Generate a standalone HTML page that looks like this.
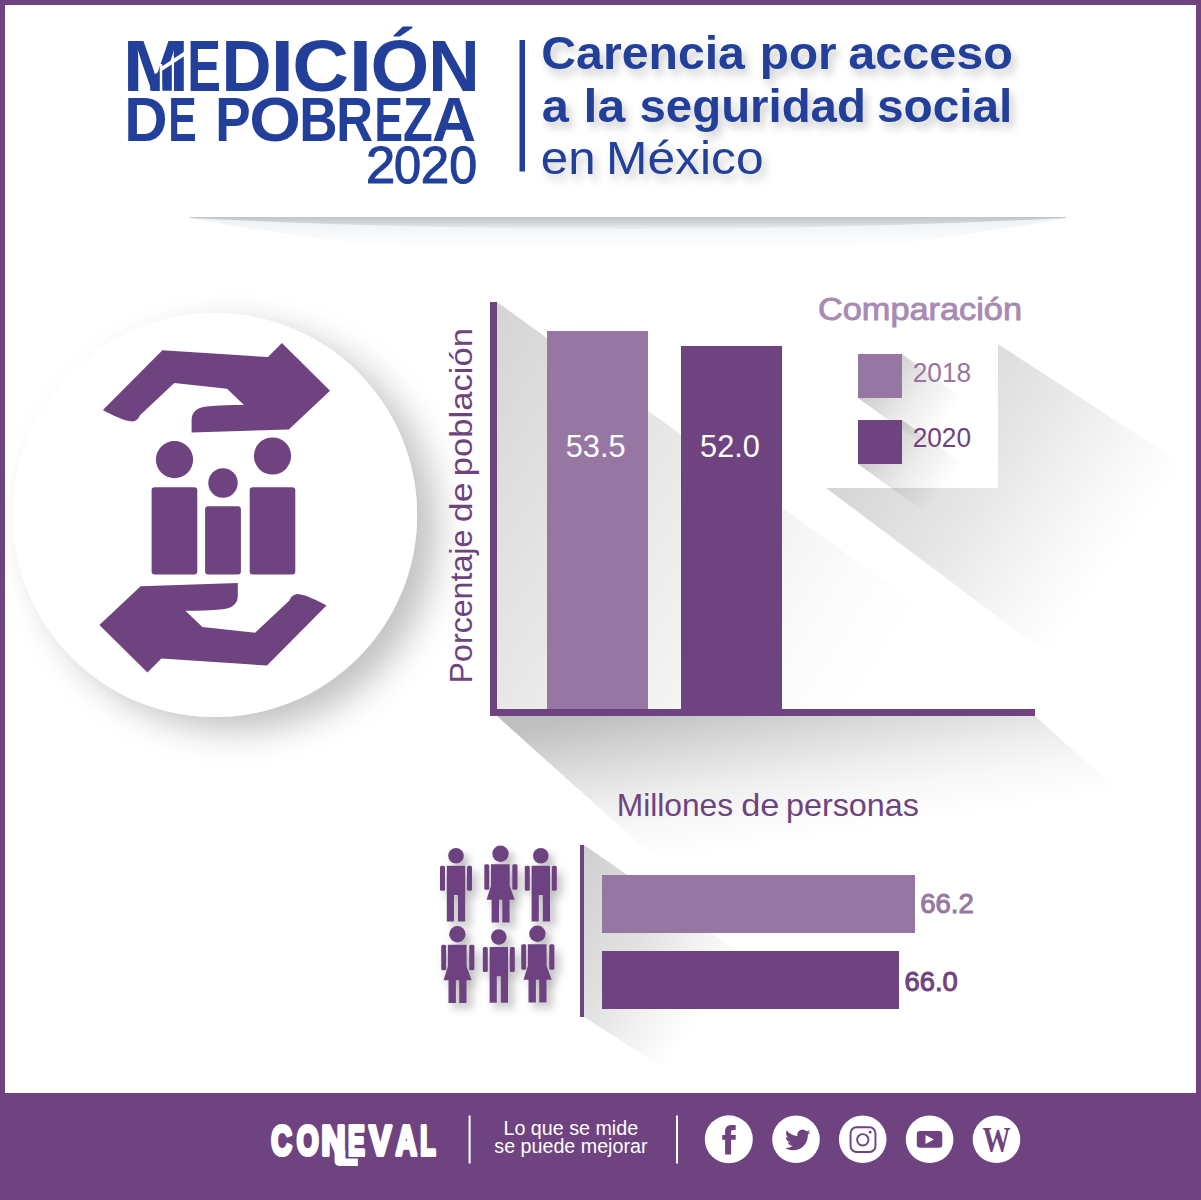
<!DOCTYPE html>
<html lang="es">
<head>
<meta charset="utf-8">
<title>Medición de Pobreza 2020 - Carencia por acceso a la seguridad social en México</title>
<style>
html,body{margin:0;padding:0;background:#fff;}
body{width:1201px;height:1200px;overflow:hidden;position:relative;}
svg{position:absolute;left:0;top:0;display:block;}
.lib{font-family:"Liberation Sans",Arial,sans-serif;font-kerning:none;}
</style>
</head>
<body>
<svg width="1201" height="1200" viewBox="0 0 1201 1200">
<defs>
  <filter id="tshadow" x="-10%" y="-30%" width="130%" height="180%">
    <feDropShadow dx="4" dy="6" stdDeviation="4" flood-color="#000" flood-opacity="0.2"/>
  </filter>
  <filter id="cshadow" x="-20%" y="-20%" width="150%" height="150%">
    <feDropShadow dx="20" dy="14" stdDeviation="17" flood-color="#000" flood-opacity="0.24"/>
  </filter>
  <filter id="pshadow" x="-30%" y="-30%" width="170%" height="170%">
    <feDropShadow dx="5" dy="6" stdDeviation="4.5" flood-color="#000" flood-opacity="0.27"/>
  </filter>
<linearGradient id="lg1" gradientUnits="userSpaceOnUse" x1="0" y1="219" x2="0" y2="250"><stop offset="0" stop-color="#eff2f5" stop-opacity="1"/><stop offset="0.4" stop-color="#f5f7f9" stop-opacity="1"/><stop offset="0.75" stop-color="#fbfcfd" stop-opacity="1"/><stop offset="1" stop-color="#ffffff" stop-opacity="1"/></linearGradient>
<linearGradient id="lg2" gradientUnits="userSpaceOnUse" x1="0" y1="217" x2="0" y2="229"><stop offset="0" stop-color="#c2c5c8" stop-opacity="1"/><stop offset="0.5" stop-color="#d3d6d9" stop-opacity="1"/><stop offset="1" stop-color="#edf0f3" stop-opacity="1"/></linearGradient>
<linearGradient id="lg3" gradientUnits="userSpaceOnUse" x1="497" y1="302" x2="937" y2="588"><stop offset="0" stop-color="#000" stop-opacity="0.165"/><stop offset="0.55" stop-color="#000" stop-opacity="0.07"/><stop offset="0.85" stop-color="#000" stop-opacity="0.015"/><stop offset="1" stop-color="#000" stop-opacity="0"/></linearGradient>
<linearGradient id="lg4" gradientUnits="userSpaceOnUse" x1="600" y1="716" x2="623" y2="868"><stop offset="0" stop-color="#000" stop-opacity="0.25"/><stop offset="0.29" stop-color="#000" stop-opacity="0.15"/><stop offset="0.55" stop-color="#000" stop-opacity="0.07"/><stop offset="0.74" stop-color="#000" stop-opacity="0.03"/><stop offset="1" stop-color="#000" stop-opacity="0"/></linearGradient>
<linearGradient id="lg5" gradientUnits="userSpaceOnUse" x1="949" y1="309" x2="1180" y2="474"><stop offset="0" stop-color="#000" stop-opacity="0.17"/><stop offset="0.5" stop-color="#000" stop-opacity="0.09"/><stop offset="0.8" stop-color="#000" stop-opacity="0.03"/><stop offset="1" stop-color="#000" stop-opacity="0"/></linearGradient>
<linearGradient id="lg6" gradientUnits="userSpaceOnUse" x1="895.508" y1="349.326" x2="962.865" y2="397.823"><stop offset="0" stop-color="#000" stop-opacity="0.2"/><stop offset="0.5" stop-color="#000" stop-opacity="0.08"/><stop offset="1" stop-color="#000" stop-opacity="0"/></linearGradient>
<linearGradient id="lg7" gradientUnits="userSpaceOnUse" x1="895.508" y1="415.326" x2="962.865" y2="463.823"><stop offset="0" stop-color="#000" stop-opacity="0.2"/><stop offset="0.5" stop-color="#000" stop-opacity="0.08"/><stop offset="1" stop-color="#000" stop-opacity="0"/></linearGradient>
<linearGradient id="lg8" gradientUnits="userSpaceOnUse" x1="584" y1="845" x2="743.9" y2="956.15"><stop offset="0" stop-color="#000" stop-opacity="0.19"/><stop offset="0.5" stop-color="#000" stop-opacity="0.12"/><stop offset="0.77" stop-color="#000" stop-opacity="0.05"/><stop offset="1" stop-color="#000" stop-opacity="0"/></linearGradient>
</defs>
<rect x="0" y="0" width="1201" height="1200" fill="#fff"/>
<g fill="#22409a">
<text class="lib" y="90.8" font-size="72.7" font-weight="700" ><tspan x="122.67" textLength="66.36" lengthAdjust="spacingAndGlyphs">M</tspan><tspan x="187.21" textLength="33.76" lengthAdjust="spacingAndGlyphs">E</tspan><tspan x="221.56" textLength="50.05" lengthAdjust="spacingAndGlyphs">D</tspan><tspan x="270.39" textLength="24.11" lengthAdjust="spacingAndGlyphs">I</tspan><tspan x="292.28" textLength="56.77" lengthAdjust="spacingAndGlyphs">C</tspan><tspan x="348.64" textLength="23.92" lengthAdjust="spacingAndGlyphs">I</tspan><tspan x="370.60" textLength="58.77" lengthAdjust="spacingAndGlyphs">Ó</tspan><tspan x="428.23" textLength="51.47" lengthAdjust="spacingAndGlyphs">N</tspan></text>
<path d="M150.2,77.1 L159.8,71.3 L159.8,90.8 L150.2,90.8 Z"/>
<path d="M162.2,69.8 L171.9,63.9 L171.9,90.8 L162.2,90.8 Z"/>
<path d="M159.8,67.8 L184.5,51.4 L184.5,55.9 L159.8,72.3 Z" fill="#fff"/>
<rect x="159.8" y="64" width="2.4" height="27.5" fill="#fff"/>
<rect x="171.9" y="56" width="2.1" height="35.5" fill="#fff"/>
<text class="lib" y="140.5" font-size="62.5" font-weight="700" ><tspan x="124.19" textLength="43.33" lengthAdjust="spacingAndGlyphs">D</tspan><tspan x="168.15" textLength="28.41" lengthAdjust="spacingAndGlyphs">E</tspan> <tspan x="215.35" textLength="35.36" lengthAdjust="spacingAndGlyphs">P</tspan><tspan x="249.17" textLength="51.72" lengthAdjust="spacingAndGlyphs">O</tspan><tspan x="299.16" textLength="38.25" lengthAdjust="spacingAndGlyphs">B</tspan><tspan x="336.30" textLength="36.75" lengthAdjust="spacingAndGlyphs">R</tspan><tspan x="374.55" textLength="28.41" lengthAdjust="spacingAndGlyphs">E</tspan><tspan x="402.95" textLength="29.75" lengthAdjust="spacingAndGlyphs">Z</tspan><tspan x="432.08" textLength="44.03" lengthAdjust="spacingAndGlyphs">A</tspan></text>
<text class="lib" y="183.3" font-size="51.5" font-weight="400" stroke="#22409a" stroke-width="1.1"><tspan x="365.96" textLength="29.18" lengthAdjust="spacingAndGlyphs">2</tspan><tspan x="393.90" textLength="27.11" lengthAdjust="spacingAndGlyphs">0</tspan><tspan x="420.73" textLength="28.44" lengthAdjust="spacingAndGlyphs">2</tspan><tspan x="449.24" textLength="27.92" lengthAdjust="spacingAndGlyphs">0</tspan></text>
<rect x="519.5" y="40" width="5.5" height="131.5"/>
</g>
<g fill="#22409a" filter="url(#tshadow)">
<text class="lib" y="69.2" font-size="46" font-weight="700" ><tspan x="541.32" textLength="203.57" lengthAdjust="spacingAndGlyphs">Carencia</tspan> <tspan x="759.86" textLength="76.66" lengthAdjust="spacingAndGlyphs">por</tspan> <tspan x="848.38" textLength="164.62" lengthAdjust="spacingAndGlyphs">acceso</tspan></text>
<text class="lib" y="121.6" font-size="46" font-weight="700" ><tspan x="541.87" textLength="27.12" lengthAdjust="spacingAndGlyphs">a</tspan> <tspan x="583.51" textLength="41.67" lengthAdjust="spacingAndGlyphs">la</tspan> <tspan x="639.53" textLength="226.39" lengthAdjust="spacingAndGlyphs">seguridad</tspan> <tspan x="876.92" textLength="135.46" lengthAdjust="spacingAndGlyphs">social</tspan></text>
<text class="lib" y="173.7" font-size="46.5" font-weight="400" ><tspan x="540.81" textLength="54.79" lengthAdjust="spacingAndGlyphs">en</tspan> <tspan x="606.02" textLength="157.57" lengthAdjust="spacingAndGlyphs">México</tspan></text>
</g>
<path d="M190,218 L1066,218 Q628,300 190,218 Z" fill="url(#lg1)"/>
<path d="M190,217 L1066,217 L1066,218 Q628,240 190,218 Z" fill="url(#lg2)"/>
<circle cx="215" cy="515" r="202" fill="#fff" filter="url(#cshadow)"/>
<g fill="#6e4380">
  <path id="hand" d="M162.4,350.2 L268,357.1 L281.9,343.1 L330,390.8 L288.8,429.5 L191.6,432.6 L191.6,419.5 C192,411 198,407.5 206.6,406.5 C218,405.3 232,405 244,405 L227,388.7 L174.3,383 L140,415.3 C138.5,419 136,421.2 132,421.6 C124,421 112,415 102.9,410.1 Z"/>
  <use href="#hand" transform="rotate(180 214.7 507.85)"/>
  <circle cx="174.5" cy="459.6" r="18.6"/>
  <circle cx="272.5" cy="456" r="18.6"/>
  <circle cx="223" cy="483" r="14.7"/>
  <rect x="151.6" y="487.3" width="45.7" height="87.1" rx="3"/>
  <rect x="205.1" y="506.2" width="35.8" height="68.2" rx="3"/>
  <rect x="249.7" y="487.3" width="45.6" height="87.1" rx="3"/>
</g>
<polygon points="497,302 1062,709 497,709" fill="url(#lg3)"/>
<polygon points="497,716 1035,716 1215,878 677,878" fill="url(#lg4)"/>
<polygon points="998,344 1258,513 1086,683 826,488 998,488" fill="url(#lg5)"/>
<rect x="826" y="344" width="172" height="144" fill="#fff"/>
<polygon points="902,354 1032,447.6 1032,491.6 988,491.6 858,398 902,398" fill="url(#lg6)"/>
<polygon points="902,420 1032,513.6 1032,557.6 988,557.6 858,464 902,464" fill="url(#lg7)"/>
<rect x="490" y="302" width="7" height="414" fill="#6e4380"/>
<rect x="490" y="709" width="545" height="7" fill="#6e4380"/>
<rect x="547" y="331" width="101" height="378" fill="#9677a3"/>
<rect x="681" y="346" width="101" height="363" fill="#6e4380"/>
<text class="lib" y="457.3" font-size="31" font-weight="400" fill="#fff"><tspan x="565.67" textLength="59.93" lengthAdjust="spacingAndGlyphs">53.5</tspan></text>
<text class="lib" y="457.3" font-size="31" font-weight="400" fill="#fff"><tspan x="700.07" textLength="59.83" lengthAdjust="spacingAndGlyphs">52.0</tspan></text>
<text class="lib" y="0" font-size="32" font-weight="400" fill="#6e4380" transform="translate(472,690) rotate(-90)"><tspan x="6.56" textLength="153.87" lengthAdjust="spacingAndGlyphs">Porcentaje</tspan> <tspan x="167.80" textLength="39.79" lengthAdjust="spacingAndGlyphs">de</tspan> <tspan x="213.77" textLength="148.28" lengthAdjust="spacingAndGlyphs">población</tspan></text>
<text class="lib" y="319.5" font-size="32" font-weight="400" fill="#a68bb3" stroke="#a68bb3" stroke-width="0.9"><tspan x="817.96" textLength="204.07" lengthAdjust="spacingAndGlyphs">Comparación</tspan></text>
<rect x="858" y="354" width="44" height="44" fill="#9677a3"/>
<rect x="858" y="420" width="44" height="44" fill="#6e4380"/>
<text class="lib" y="382.1" font-size="27" font-weight="400" fill="#9677a3"><tspan x="912.68" textLength="58.46" lengthAdjust="spacingAndGlyphs">2018</tspan></text>
<text class="lib" y="446.8" font-size="27" font-weight="400" fill="#6e4380"><tspan x="912.68" textLength="58.34" lengthAdjust="spacingAndGlyphs">2020</tspan></text>
<text class="lib" y="815.6" font-size="31.4" font-weight="400" fill="#6e4380"><tspan x="616.70" textLength="116.45" lengthAdjust="spacingAndGlyphs">Millones</tspan> <tspan x="741.26" textLength="38.17" lengthAdjust="spacingAndGlyphs">de</tspan> <tspan x="785.92" textLength="133.05" lengthAdjust="spacingAndGlyphs">personas</tspan></text>
<polygon points="584,845 784,983 784,1145 584,1017" fill="url(#lg8)"/>
<rect x="580" y="845" width="4" height="172" fill="#6e4380"/>
<rect x="602" y="875" width="313" height="58" fill="#9677a3"/>
<rect x="602" y="951" width="297" height="58" fill="#6e4380"/>
<text class="lib" y="913" font-size="27" font-weight="400" fill="#9677a3" stroke="#9677a3" stroke-width="1"><tspan x="920.20" textLength="53.58" lengthAdjust="spacingAndGlyphs">66.2</tspan></text>
<text class="lib" y="991" font-size="27" font-weight="400" fill="#6e4380" stroke="#6e4380" stroke-width="1"><tspan x="904.61" textLength="53.15" lengthAdjust="spacingAndGlyphs">66.0</tspan></text>
<defs>
  <g id="male">
    <circle cx="16" cy="7.8" r="7.8"/>
    <rect x="0" y="17.8" width="5" height="25" rx="1.5"/>
    <rect x="27" y="17.8" width="5" height="25" rx="1.5"/>
    <path d="M6.8,17.8 H25.2 V73.5 H18 V47 H14 V73.5 H6.8 Z"/>
  </g>
  <g id="female">
    <circle cx="16.2" cy="7.8" r="8.2"/>
    <rect x="0" y="18.2" width="5" height="25.5" rx="1.5"/>
    <rect x="28" y="18.2" width="5.2" height="25.5" rx="1.5"/>
    <path d="M6.6,18.2 H25.4 V40 L30.5,53.8 H25.3 V76.5 H18 V53.8 H14.7 V76.5 H7.3 V53.8 H2.3 L6.6,40 Z"/>
  </g>
</defs>
<g fill="#6e4380" filter="url(#pshadow)">
  <use href="#male" transform="translate(440,848)"/>
  <use href="#female" transform="translate(484.3,846)"/>
  <use href="#male" transform="translate(524.8,848)"/>
  <use href="#female" transform="translate(441.2,926.5)"/>
  <use href="#male" transform="translate(482.8,929.2)"/>
  <use href="#female" transform="translate(521.2,926)"/>
</g>
<rect x="0" y="0" width="1201" height="5" fill="#6e4380"/>
<rect x="0" y="0" width="5" height="1200" fill="#6e4380"/>
<rect x="1196" y="0" width="5" height="1200" fill="#6e4380"/>
<rect x="0" y="1093" width="1201" height="107" fill="#6e4380"/>
<text class="lib" y="1155" font-size="43" font-weight="700" fill="#fff" stroke="#fff" stroke-width="4.2" stroke-linejoin="round"><tspan x="271.33" textLength="20.66" lengthAdjust="spacingAndGlyphs">C</tspan><tspan x="296.74" textLength="21.94" lengthAdjust="spacingAndGlyphs">O</tspan><tspan x="321.58" textLength="23.95" lengthAdjust="spacingAndGlyphs">N</tspan><tspan x="347.92" textLength="16.76" lengthAdjust="spacingAndGlyphs">E</tspan><tspan x="369.37" textLength="22.05" lengthAdjust="spacingAndGlyphs">V</tspan><tspan x="395.87" textLength="21.10" lengthAdjust="spacingAndGlyphs">A</tspan><tspan x="420.32" textLength="15.35" lengthAdjust="spacingAndGlyphs">L</tspan></text>
<path d="M334.6,1150 H345.4 V1158.4 H357.9 V1165.9 H339.6 Q334.6,1165.9 334.6,1161 Z" fill="#fff"/>
<rect x="468.6" y="1115.5" width="2" height="48" fill="#fff"/>
<text class="lib" x="570.8" y="1134.8" font-size="19.7" fill="#fff" text-anchor="middle">Lo que se mide</text>
<text class="lib" x="570.9" y="1153" font-size="19.7" fill="#fff" text-anchor="middle">se puede mejorar</text>
<rect x="676" y="1115.5" width="2" height="48" fill="#fff"/>
<g fill="#fff">
  <circle cx="728.8" cy="1139.3" r="24"/>
  <circle cx="796" cy="1139.3" r="23.8"/>
  <circle cx="862.7" cy="1139.3" r="23.8"/>
  <circle cx="929.6" cy="1139.3" r="23.8"/>
  <circle cx="996.5" cy="1139.3" r="23.8"/>
</g>
<g fill="#6e4380">
  <path d="M725.1,1154.6 L725.1,1139.8 L722.2,1139.8 L722.2,1134.9 L725.1,1134.9 L725.1,1131 C725.1,1127 727.5,1124.9 731.5,1124.9 L735.7,1124.9 L735.7,1130 L733,1130 C731.7,1130 731.1,1130.7 731.1,1132 L731.1,1134.9 L735.7,1134.9 L735.7,1139.8 L731.1,1139.8 L731.1,1154.6 Z"/>
  <path transform="translate(785,1127.2) scale(1.06)" d="M23.953 4.57a10 10 0 01-2.825.775 4.958 4.958 0 002.163-2.723c-.951.555-2.005.959-3.127 1.184a4.92 4.92 0 00-8.384 4.482C7.69 8.095 4.067 6.13 1.64 3.162a4.822 4.822 0 00-.666 2.475c0 1.71.87 3.213 2.188 4.096a4.904 4.904 0 01-2.228-.616v.06a4.923 4.923 0 003.946 4.827 4.996 4.996 0 01-2.212.085 4.936 4.936 0 004.604 3.417 9.867 9.867 0 01-6.102 2.105c-.39 0-.779-.023-1.17-.067a13.995 13.995 0 007.557 2.209c9.053 0 13.998-7.496 13.998-13.985 0-.21 0-.42-.015-.63A9.935 9.935 0 0024 4.59z"/>
  <rect x="850.55" y="1127.25" width="24.9" height="24.8" rx="6" fill="none" stroke="#6e4380" stroke-width="1.9"/>
  <circle cx="862.8" cy="1139.8" r="5.7" fill="none" stroke="#6e4380" stroke-width="1.9"/>
  <circle cx="870.1" cy="1132.2" r="1.4"/>
  <rect x="916.8" y="1131" width="25.5" height="16.7" rx="3.2"/>
  <path d="M925.5,1135 L933.9,1139.5 L925.5,1144 Z" fill="#fff"/>
  <text x="982.5" y="1152.4" font-family="'Liberation Serif',serif" font-size="35" font-weight="700" textLength="28" lengthAdjust="spacingAndGlyphs">W</text>
</g>
</svg>
</body>
</html>
